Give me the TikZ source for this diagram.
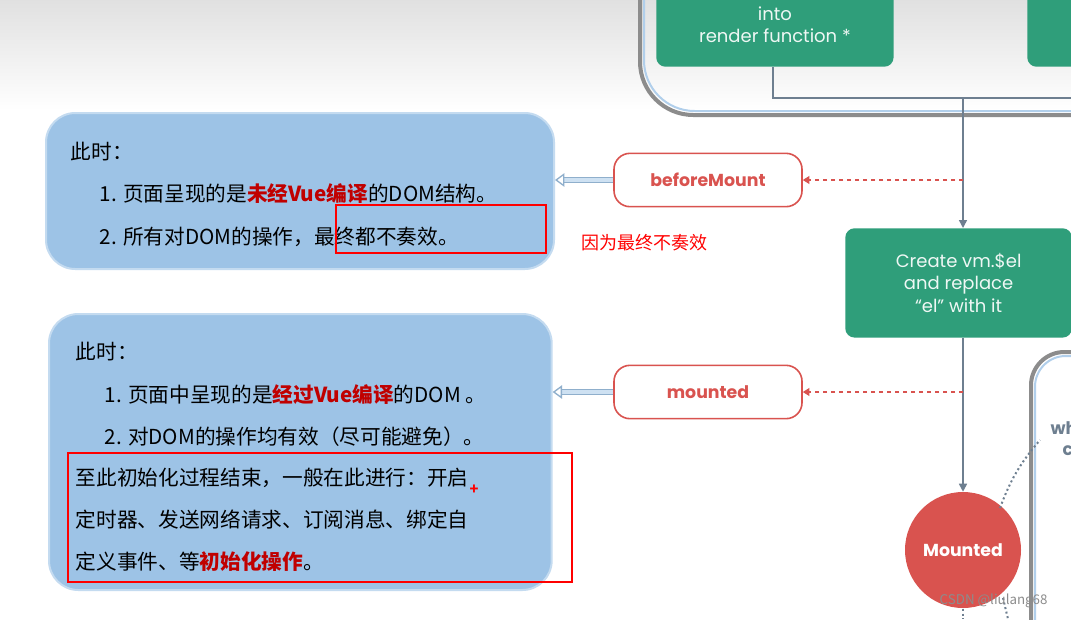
\documentclass[tikz,border=0pt]{standalone}
\usepackage{fontspec}
\setmainfont{Noto Sans CJK SC}
\newfontfamily\enfont{Poppins}
\usetikzlibrary{arrows.meta}
\definecolor{vgreen}{HTML}{2F9E7A}
\definecolor{hookred}{HTML}{D9534F}
\definecolor{calloutblue}{HTML}{9DC3E6}
\definecolor{linegray}{HTML}{6E7F90}
\definecolor{keyred}{HTML}{C00000}
\tikzset{
  hookbox/.style={draw=hookred, line width=1.2pt, rounded corners=12pt, fill=white,
    minimum width=141pt, minimum height=40pt, text=hookred, font=\enfont\bfseries\fontsize{13}{13}\selectfont},
  stepbox/.style={fill=vgreen, rounded corners=7pt, text=white!92!vgreen, align=center,
    font=\enfont\fontsize{13.5}{17}\selectfont},
  callout/.style={fill=calloutblue, draw=calloutblue!60!white, line width=1.5pt, rounded corners=22pt},
  flow/.style={draw=linegray, line width=1.1pt, -{Triangle[width=6pt,length=6pt]}},
  hookarrow/.style={draw=hookred, dashed, line width=0.9pt, -{Triangle[width=6pt,length=5pt]}},
  redmark/.style={draw=red, line width=1pt},
  txt/.style={anchor=west, font=\fontsize{15.5}{15.5}\selectfont}
}
\begin{document}
\begin{tikzpicture}[x=0.75pt,y=-0.75pt]
  \useasboundingbox (0,0) rectangle (1071,619);
  % background shade
  \shade[top color=black!12, bottom color=white] (0,0) rectangle (1071,110);
  \fill[white] (0,110) rectangle (1071,619);

  % outer template box
  \draw[black!45, line width=3pt, rounded corners=40pt] (640,-40) -- (640,115) -- (1100,115);
  \draw[calloutblue!80!white, line width=1.5pt, rounded corners=38pt] (644,-40) -- (644,111) -- (1100,111);
  \node[stepbox, minimum width=178pt, minimum height=63pt, anchor=south west] (render) at (656,67) {into\\render function *};
  \node[stepbox, minimum width=60pt, minimum height=63pt, anchor=south west] (other) at (1027,67) {};
  \coordinate (bend) at (773,98);
  \coordinate (join) at (963,98);
  \draw[linegray, line width=1.1pt] (773,67) -- (bend) -- (1071,98);

  % create el
  \node[stepbox, minimum width=170pt, minimum height=82pt, anchor=north west] (create) at (845,228) {Create vm.\$el\\and replace\\“el” with it};
  \draw[flow] (join) -- (963,228);

  % right box
  \draw[black!45, line width=3pt, rounded corners=25pt] (1031,640) -- (1031,352) -- (1100,352);
  \draw[calloutblue!80!white, line width=1.5pt, rounded corners=23pt] (1035,640) -- (1035,356) -- (1100,356);
  \node[anchor=west, text=linegray, font=\enfont\bfseries\fontsize{13}{13}\selectfont] (wh) at (1046,428) {wh};
  \node[anchor=west, text=linegray, font=\enfont\bfseries\fontsize{13}{13}\selectfont] (cc) at (1058,451) {c};

  % mounted circle
  \node[circle, fill=hookred, minimum size=87pt, text=white, font=\enfont\bfseries\fontsize{13}{13}\selectfont] (Mounted) at (963,550) {Mounted};
  \draw[flow] (create.south -| 963,0) -- (Mounted.north);
  \draw[linegray, dotted, line width=1.5pt] (1000,508) to[bend left=10] (1040,440);
  \draw[linegray, dotted, line width=1.5pt] (963,609) -- (963,619);
  \draw[linegray, dotted, line width=1.5pt] (1003,598) -- (1008,619);

  % hooks
  \node[hookbox] (beforeMount) at (708,180) {beforeMount};
  \node[hookbox] (mounted) at (708,392) {mounted};
  \draw[hookarrow] (963,180) -- (beforeMount.east);
  \draw[hookarrow] (963,392) -- (mounted.east);

  % callouts
  \node[callout, minimum width=381pt, minimum height=117pt, anchor=north west] (note1) at (45,112) {};
  \node[callout, minimum width=377pt, minimum height=207pt, anchor=north west] (note2) at (48,313) {};
  \foreach \h/\n in {beforeMount/note1, mounted/note2}
    \draw[calloutblue!70!linegray, double=calloutblue!50!white, double distance=3pt, line width=1pt,
      -{Triangle[open,width=10pt,length=7pt]}] (\h.west) -- (\h.west -| \n.east);

  \node[txt] (n1a) at (66,152) {此时：};
  \node[txt] (n1b) at (95,194) {1. 页面呈现的是{\color{keyred}\bfseries 未经Vue编译}的DOM结构。};
  \node[txt] (n1c) at (95,237) {2. 所有对DOM的操作，最终都不奏效。};
  \node[txt] (n2a) at (71,352) {此时：};
  \node[txt] (n2b) at (100,395) {1. 页面中呈现的是{\color{keyred}\bfseries 经过Vue编译}的DOM 。};
  \node[txt] (n2c) at (100,437) {2. 对DOM的操作均有效（尽可能避免）。};
  \node[txt] (n2d) at (71,478) {至此初始化过程结束，一般在此进行：开启};
  \node[txt] (n2e) at (71,520) {定时器、发送网络请求、订阅消息、绑定自};
  \node[txt] (n2f) at (71,562) {定义事件、等{\color{keyred}\bfseries 初始化操作}。};

  % annotations
  \draw[redmark] (336,205) rectangle (546,253);
  \draw[redmark] (68,453) rectangle (572,582);
  \node[anchor=west, text=red, font=\fontsize{13.5}{13.5}\selectfont] (reason) at (577,243) {因为最终不奏效};
  \node[text=red, font=\bfseries\fontsize{11}{11}\selectfont] (plus) at (474,490) {+};
  \node[anchor=west, text=black!45, font=\fontsize{10}{10}\selectfont] (wm) at (935,601) {CSDN @liulang68};
\end{tikzpicture}
\end{document}
